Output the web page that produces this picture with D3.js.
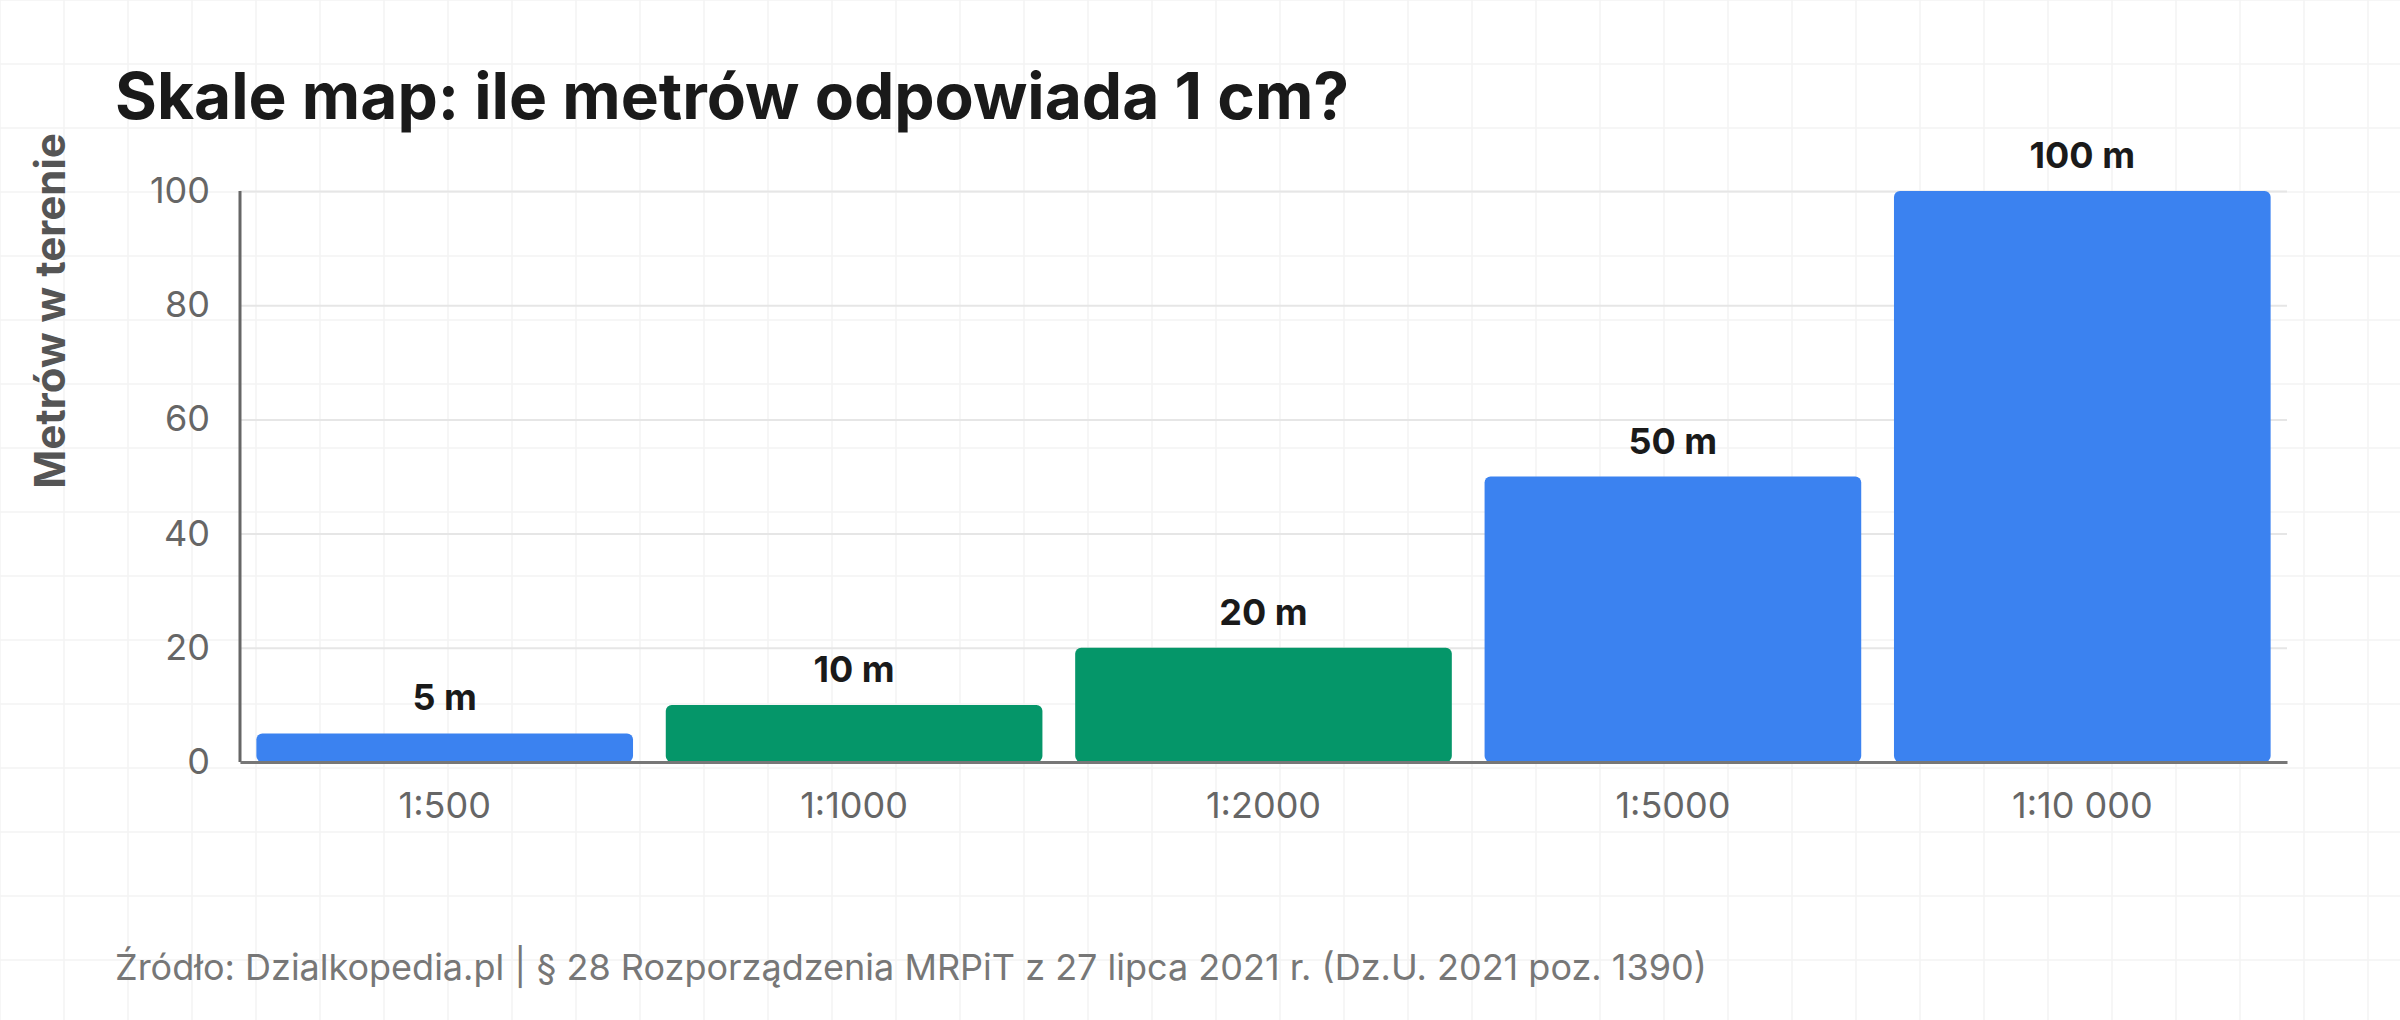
<!DOCTYPE html>
<html>
<head>
<meta charset="utf-8">
<script src="https://cdn.jsdelivr.net/npm/d3@7"></script>
<style>
  html, body { margin: 0; padding: 0; background: #fff; }
  svg { display: block; font-family: Inter, "Noto Sans", sans-serif; }
  svg text { font-family: Inter, "Noto Sans", sans-serif; }
</style>
</head>
<body>
<div id="chart"></div>
<script>
// data
var scales = ['1:500', '1:1000', '1:2000', '1:5000', '1:10 000'];
var meters = [5, 10, 20, 50, 100];
var barColors = ['#3b82f0', '#059669', '#059669', '#3b82f0', '#3b82f0'];
var yTicks = [0, 20, 40, 60, 80, 100];

var width = 2400;
var height = 1020;
var margin = { top: 191, right: 113, bottom: 258, left: 240 };

var svg = d3.select('#chart')
  .append('svg')
  .attr('width', width)
  .attr('height', height);

// faint background grid
var bg = svg.append('g').attr('class', 'bg-grid');
bg.selectAll('line.v')
  .data(d3.range(0, width + 1, 64))
  .enter()
  .append('line')
  .attr('x1', d => d).attr('x2', d => d)
  .attr('y1', 0).attr('y2', height)
  .attr('stroke', '#f3f3f3')
  .attr('stroke-width', 1.5);
bg.selectAll('line.h')
  .data(d3.range(0, height + 1, 64))
  .enter()
  .append('line')
  .attr('y1', d => d).attr('y2', d => d)
  .attr('x1', 0).attr('x2', width)
  .attr('stroke', '#f3f3f3')
  .attr('stroke-width', 1.5);

var x = d3.scaleBand()
  .domain(scales)
  .range([margin.left, width - margin.right])
  .paddingInner(0.08)
  .paddingOuter(0.04);

var y = d3.scaleLinear()
  .domain([0, 100])
  .range([height - margin.bottom, margin.top]);

// horizontal gridlines + y labels
var yAxis = svg.append('g')
  .attr('transform', 'translate(' + margin.left + ',0)')
  .call(d3.axisLeft(y)
    .tickValues(yTicks)
    .tickSize(-(width - margin.left - margin.right))
    .tickPadding(30));
yAxis.attr('font-family', null).attr('font-size', null);
yAxis.select('.domain').remove();
yAxis.selectAll('.tick line')
  .attr('stroke', '#e6e6e6')
  .attr('stroke-width', 2);
yAxis.selectAll('.tick text')
  .attr('fill', '#666')
  .style('font-size', '36px');

// bars
svg.selectAll('rect.bar')
  .data(meters)
  .enter()
  .append('rect')
  .attr('class', 'bar')
  .attr('x', (d, i) => x(scales[i]))
  .attr('y', d => y(d))
  .attr('width', x.bandwidth())
  .attr('height', d => y(0) - y(d))
  .attr('rx', 6)
  .attr('fill', (d, i) => barColors[i]);

// value labels
svg.selectAll('text.val')
  .data(meters)
  .enter()
  .append('text')
  .attr('class', 'val')
  .attr('x', (d, i) => x(scales[i]) + x.bandwidth() / 2)
  .attr('y', d => y(d) - 23)
  .attr('text-anchor', 'middle')
  .attr('fill', '#1a1a1a')
  .style('font-size', '36px')
  .style('font-weight', 700)
  .text(d => d + ' m');

// axis lines
svg.append('line')
  .attr('x1', margin.left).attr('x2', margin.left)
  .attr('y1', y(100)).attr('y2', y(0))
  .attr('stroke', '#666')
  .attr('stroke-width', 3);

var xAxis = svg.append('g')
  .attr('transform', 'translate(0,' + y(0) + ')')
  .call(d3.axisBottom(x).tickSize(0).tickPadding(30));
xAxis.attr('font-family', null).attr('font-size', null);
xAxis.select('.domain')
  .attr('stroke', '#777')
  .attr('stroke-width', 3);
xAxis.selectAll('.tick text')
  .attr('fill', '#666')
  .style('font-size', '36px');

// y axis title
svg.append('text')
  .attr('transform', 'translate(54,311) rotate(-90)')
  .attr('text-anchor', 'middle')
  .attr('dominant-baseline', 'middle')
  .attr('fill', '#555')
  .style('font-size', '42px')
  .style('font-weight', 700)
  .text('Metrów w terenie');

// title
svg.append('text')
  .attr('x', 115)
  .attr('y', 119)
  .attr('fill', '#1a1a1a')
  .style('font-size', '64px')
  .style('font-weight', 700)
  .text('Skale map: ile metrów odpowiada 1 cm?');

// source
svg.append('text')
  .attr('x', 115)
  .attr('y', 980)
  .attr('fill', '#777')
  .style('font-size', '36px')
  .text('Źródło: Dzialkopedia.pl | § 28 Rozporządzenia MRPiT z 27 lipca 2021 r. (Dz.U. 2021 poz. 1390)');
</script>
</body>
</html>
